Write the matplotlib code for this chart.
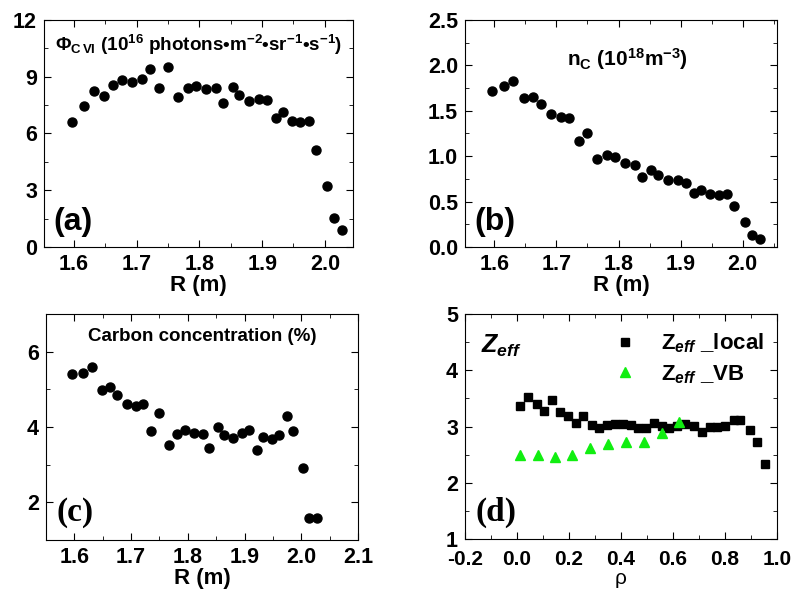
import matplotlib
matplotlib.use('Agg')
import matplotlib.pyplot as plt
from matplotlib.ticker import MultipleLocator, FormatStrFormatter

plt.rcParams['font.family'] = 'Liberation Sans'
plt.rcParams['font.weight'] = 'bold'
plt.rcParams['axes.unicode_minus'] = False
plt.rcParams['mathtext.fontset'] = 'custom'
plt.rcParams['mathtext.rm'] = 'Liberation Sans:bold'
plt.rcParams['mathtext.bf'] = 'Liberation Sans:bold'
plt.rcParams['mathtext.it'] = 'Liberation Sans:italic:bold'

# radial positions (m), shared by panels a-c
R = [1.596, 1.616, 1.631, 1.648, 1.662, 1.676, 1.692, 1.708, 1.721, 1.736,
     1.750, 1.766, 1.781, 1.795, 1.811, 1.826, 1.837, 1.853, 1.863, 1.879,
     1.895, 1.908, 1.922, 1.933, 1.948, 1.961, 1.975, 1.986, 2.003, 2.014, 2.027]

phi_cvi = [6.62, 7.45, 8.24, 7.96, 8.54, 8.82, 8.73, 8.89, 9.39, 8.38,
           9.49, 7.91, 8.42, 8.51, 8.33, 8.40, 7.59, 8.47, 8.03, 7.71,
           7.85, 7.76, 6.83, 7.15, 6.67, 6.60, 6.64, 5.15, 3.21, 1.55, 0.88]

n_c = [1.72, 1.77, 1.83, 1.64, 1.65, 1.57, 1.47, 1.43, 1.42, 1.17,
       1.26, 0.97, 1.01, 0.99, 0.92, 0.90, 0.77, 0.85, 0.79, 0.74,
       0.74, 0.71, 0.60, 0.63, 0.58, 0.57, 0.58, 0.45, 0.28, 0.13, 0.09]

c_conc = [5.41, 5.44, 5.60, 4.97, 5.06, 4.85, 4.62, 4.55, 4.62, 3.89,
          4.38, 3.52, 3.82, 3.93, 3.84, 3.82, 3.45, 4.00, 3.80, 3.70,
          3.84, 3.92, 3.38, 3.73, 3.67, 3.80, 4.29, 3.89, 2.91, 1.58, 1.58]

rho_local = [0.013, 0.042, 0.075, 0.104, 0.136, 0.165, 0.197, 0.225, 0.254, 0.287,
             0.316, 0.347, 0.377, 0.406, 0.437, 0.467, 0.496, 0.527, 0.557, 0.586,
             0.617, 0.647, 0.679, 0.711, 0.743, 0.771, 0.801, 0.833, 0.859, 0.897,
             0.925, 0.955]
zeff_local = [3.37, 3.52, 3.40, 3.28, 3.47, 3.26, 3.19, 3.07, 3.19, 3.03,
              2.97, 3.02, 3.05, 3.05, 3.03, 2.98, 2.98, 3.06, 3.01, 2.98,
              3.01, 3.04, 3.01, 2.91, 3.00, 2.99, 3.01, 3.12, 3.12, 2.93,
              2.72, 2.34]

rho_vb = [0.013, 0.081, 0.148, 0.213, 0.280, 0.351, 0.419, 0.488, 0.557, 0.625]
zeff_vb = [2.50, 2.49, 2.45, 2.49, 2.62, 2.69, 2.73, 2.73, 2.89, 3.08]


def style(ax, xmaj, ymaj):
    ax.xaxis.set_major_locator(MultipleLocator(xmaj))
    ax.xaxis.set_minor_locator(MultipleLocator(xmaj / 2))
    ax.yaxis.set_major_locator(MultipleLocator(ymaj))
    ax.yaxis.set_minor_locator(MultipleLocator(ymaj / 2))
    ax.tick_params(which='both', direction='in', top=True, right=True)
    ax.tick_params(which='major', length=5, labelsize=15.5, pad=5)
    ax.tick_params(which='minor', length=3)
    for lab in ax.get_xticklabels() + ax.get_yticklabels():
        lab.set_fontweight('bold')


fig = plt.figure(figsize=(7.93, 5.92), dpi=100)

# (a)
ax = fig.add_axes([0.0555, 0.5828, 0.3897, 0.3834])
ax.plot(R, phi_cvi, 'o', color='black', ms=6.5)
ax.set_xlim(1.552, 2.045)
ax.set_ylim(0, 12)
style(ax, 0.1, 3)
ax.set_xticks([1.6, 1.7, 1.8, 1.9, 2.0])
ax.xaxis.set_major_formatter(FormatStrFormatter('%.1f'))
ax.set_xlabel('R (m)', fontsize=16, fontweight='bold', labelpad=0)
ax.text(0.035, 0.89, r'$\Phi_{\rm C\,VI}$ (10$^{16}$ photons•m$^{-2}$•sr$^{-1}$•s$^{-1}$)',
        transform=ax.transAxes, fontsize=13.6, fontweight='bold', ha='left', va='center')
ax.text(0.03, 0.11, '(a)', transform=ax.transAxes, fontsize=23, fontweight='bold', va='center')

# (b)
ax = fig.add_axes([0.5864, 0.5828, 0.3934, 0.3834])
ax.plot(R, n_c, 'o', color='black', ms=6.5)
ax.set_xlim(1.553, 2.055)
ax.set_ylim(0, 2.5)
style(ax, 0.1, 0.5)
ax.set_xticks([1.6, 1.7, 1.8, 1.9, 2.0])
ax.xaxis.set_major_formatter(FormatStrFormatter('%.1f'))
ax.yaxis.set_major_formatter(FormatStrFormatter('%.1f'))
ax.set_xlabel('R (m)', fontsize=16, fontweight='bold', labelpad=0)
ax.text(0.52, 0.83, r'n$_{\rm C}$ (10$^{18}$m$^{-3}$)', transform=ax.transAxes,
        fontsize=15, fontweight='bold', ha='center', va='center')
ax.text(0.03, 0.11, '(b)', transform=ax.transAxes, fontsize=23, fontweight='bold', va='center')

# (c)
ax = fig.add_axes([0.058, 0.0878, 0.3934, 0.3818])
ax.plot(R, c_conc, 'o', color='black', ms=6.5)
ax.set_xlim(1.55, 2.1)
ax.set_ylim(1, 7)
style(ax, 0.1, 2)
ax.yaxis.set_minor_locator(MultipleLocator(1))
ax.xaxis.set_major_formatter(FormatStrFormatter('%.1f'))
ax.set_xlabel('R (m)', fontsize=16, fontweight='bold', labelpad=0)
ax.text(0.5, 0.9, 'Carbon concentration (%)', transform=ax.transAxes,
        fontsize=13.5, fontweight='bold', ha='center', va='center')
ax.text(0.035, 0.12, '(c)', transform=ax.transAxes, fontsize=24, fontweight='bold',
        family='Liberation Serif', va='center')

# (d)
ax = fig.add_axes([0.5864, 0.0895, 0.3934, 0.380])
ax.plot(rho_local, zeff_local, 's', color='black', ms=6, label=r'$\mathrm{Z}_{eff}$ _local')
ax.plot(rho_vb, zeff_vb, '^', color='#11ee11', ms=7, label=r'$\mathrm{Z}_{eff}$ _VB')
ax.set_xlim(-0.2, 1.0)
ax.set_ylim(1, 5)
style(ax, 0.2, 1)
ax.tick_params(axis='x', which='major', pad=8, labelsize=15)
ax.xaxis.set_major_formatter(FormatStrFormatter('%.1f'))
ax.set_xlabel('ρ', fontsize=15, fontweight='normal', labelpad=0)
ax.text(0.05, 0.86, r'$Z_{eff}$', transform=ax.transAxes, fontsize=18, va='center')
ax.text(0.035, 0.12, '(d)', transform=ax.transAxes, fontsize=24, fontweight='bold',
        family='Liberation Serif', va='center')
ax.legend(loc='upper right', frameon=False, prop={'size': 16, 'weight': 'bold'},
          handlelength=0.8, handletextpad=1.2, labelspacing=0.35,
          borderaxespad=0.2, bbox_to_anchor=(1.0, 0.98))

plt.savefig('out.png', dpi=100)
